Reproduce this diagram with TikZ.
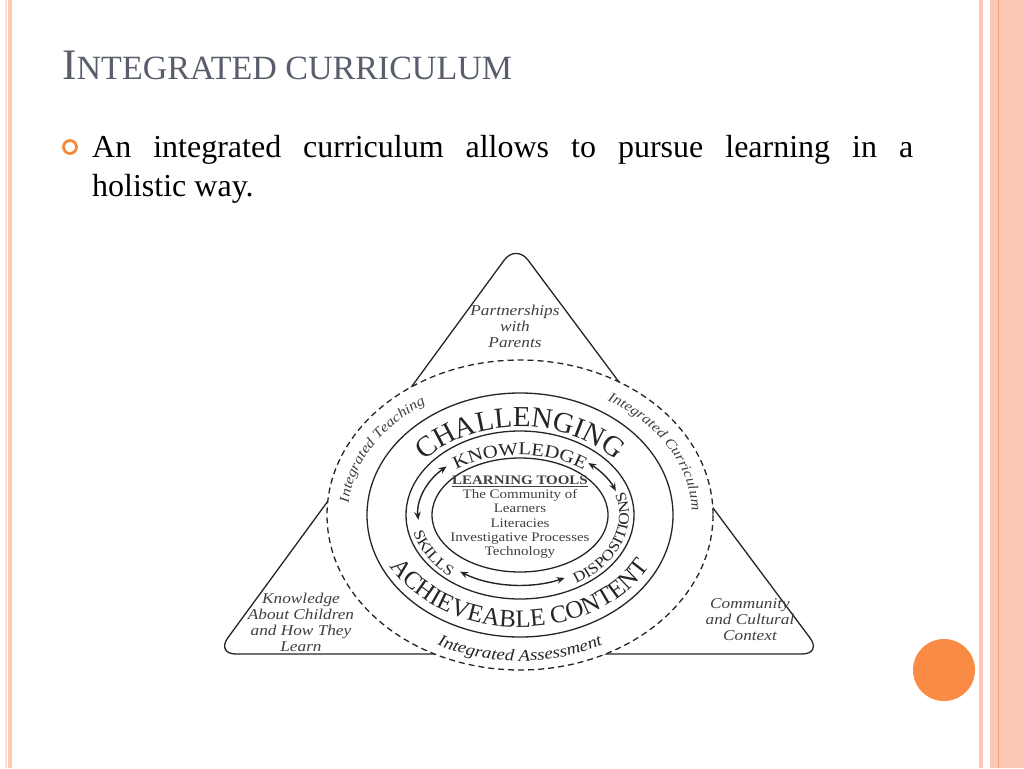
\documentclass[tikz,border=0pt]{standalone}
\usepackage{fontspec}
\setmainfont{Liberation Serif}
\newfontfamily\dgm[FakeStretch=1.15]{Liberation Serif}
\newfontfamily\dgmplain{Liberation Serif}
\usetikzlibrary{decorations.text,arrows.meta}
\definecolor{titlegray}{HTML}{585E6C}
\definecolor{orng}{HTML}{F38A3D}
\definecolor{ball}{HTML}{F98B45}
\definecolor{pinkA}{HTML}{FBC9B6}
\definecolor{pinkB}{HTML}{FCE3D9}
\definecolor{pinkC}{HTML}{F29E7E}
\definecolor{ink}{HTML}{252525}
\definecolor{soft}{HTML}{404040}
\newcommand\chalfont{\color{ink}\dgmplain\fontsize{29}{29}\selectfont}
\newcommand\achfont{\color{ink}\dgmplain\fontsize{25}{25}\selectfont}
\newcommand\knowfont{\color{ink}\dgm\fontsize{18}{18}\selectfont}
\newcommand\ringfont{\color{ink}\dgm\fontsize{15}{15}\selectfont}
\newcommand\intfont{\color{soft}\dgm\itshape\fontsize{14}{14}\selectfont}
\newcommand\assfont{\color{ink}\dgm\itshape\fontsize{16.5}{16.5}\selectfont}
\begin{document}
\begin{tikzpicture}[x=1pt,y=-1pt,
  ring/.style={draw=ink,line width=1.3pt},
  dashring/.style={draw=ink,line width=1.3pt,dash pattern=on 6pt off 4pt},
  corner/.style={font=\dgm\itshape\fontsize{15}{16}\selectfont,text=soft,align=center,inner sep=0},
  dblarrow/.style={draw=ink,line width=1.4pt,{Stealth[length=8pt,width=6.5pt]}-{Stealth[length=8pt,width=6.5pt]}},
  ctext/.style={decorate,decoration={text along path,text align=center,text={#1}}},
  body/.style={anchor=base west,inner sep=0,font=\fontsize{32}{40}\selectfont}
]
\useasboundingbox (0,0) rectangle (1024,768);
\fill[white] (0,0) rectangle (1024,768);
% side borders
\fill[pinkB] (4.5,0) rectangle (6.5,768);
\fill[pinkA] (8,0) rectangle (12,768);
\fill[pinkA] (979,0) rectangle (983,768);
\fill[pinkA] (990,0) rectangle (1024,768);
\fill[pinkC] (997.5,0) rectangle (999,768);

% title
\node[anchor=base west,inner sep=0,text=titlegray,font=\fontsize{43.5}{43.5}\selectfont] (title) at (62,79)
  {I\fontsize{34}{34}\selectfont NTEGRATED CURRICULUM};

% bullet
\node[circle,draw=orng,line width=2.8pt,minimum size=13pt,inner sep=0] (bul) at (70,147) {};
\node[body] (l1) at (92,157) {\makebox[821pt][s]{An integrated curriculum allows to pursue learning in a}};
\node[body] (l2) at (92,196) {holistic way.};

% orange ball
\node[circle,fill=ball,minimum size=62pt,inner sep=0] (ball) at (944,670) {};

% diagram
\coordinate (C) at (520,515);
\draw[ring,rounded corners=20pt] (516,244) -- (822,654) -- (216,654) -- cycle;
\fill[white] (C) ellipse[x radius=193,y radius=155];
\draw[dashring] (C) ellipse[x radius=193,y radius=155];
\draw[ring] (C) ellipse[x radius=153,y radius=122];
\draw[ring] (C) ellipse[x radius=114,y radius=84];
\draw[ring] (C) ellipse[x radius=88,y radius=57];

% corner labels
\node[corner] (par) at (515,326) {Partnerships\\with\\Parents};
\node[corner] (kac) at (301,622) {Knowledge\\About Children\\and How They\\Learn};
\node[corner] (ccc) at (750,620) {Community\\and Cultural\\Context};

% curved texts
\path[ctext={|\chalfont|CHALLENGING}] (C) ++(212:121 and 88) arc[start angle=212,end angle=328,x radius=121,y radius=88];
\path[ctext={|\knowfont|KNOWLEDGE}] (C) ++(205:96 and 60) arc[start angle=205,end angle=335,x radius=96,y radius=60];
\path[ctext={|\achfont|ACHIEVEABLE CONTENT}] (C) ++(168:146 and 112) arc[start angle=168,end angle=12,x radius=146,y radius=112];
\path[ctext={|\ringfont|SKILLS}] (C) ++(180:109 and 80) arc[start angle=180,end angle=120,x radius=109,y radius=80];
\path[ctext={|\ringfont|DISPOSITIONS}] (C) ++(72:109 and 80) arc[start angle=72,end angle=-33,x radius=109,y radius=80];
\path[ctext={|\intfont|Integrated Teaching}] (C) ++(175:172 and 133) arc[start angle=175,end angle=245,x radius=172,y radius=133];
\path[ctext={|\intfont|Integrated Curriculum}] (C) ++(295:172 and 133) arc[start angle=295,end angle=365,x radius=172,y radius=133];
\path[ctext={|\assfont|Integrated Assessment}] (C) ++(130:181 and 146) arc[start angle=130,end angle=50,x radius=181,y radius=146];

% arrows
\draw[dblarrow] (C) ++(224:102 and 70) arc[start angle=224,end angle=176,x radius=102,y radius=70];
\draw[dblarrow] (C) ++(312:102 and 70) arc[start angle=312,end angle=340,x radius=102,y radius=70];
\draw[dblarrow] (C) ++(126:102 and 70) arc[start angle=126,end angle=64,x radius=102,y radius=70];

% learning tools
\node[align=center,inner sep=0,text=soft,font=\dgm\fontsize{13}{14.2}\selectfont] (tools) at (520,517)
  {\textbf{\underline{LEARNING TOOLS}}\\The Community of\\Learners\\Literacies\\Investigative Processes\\Technology};
\end{tikzpicture}
\end{document}
